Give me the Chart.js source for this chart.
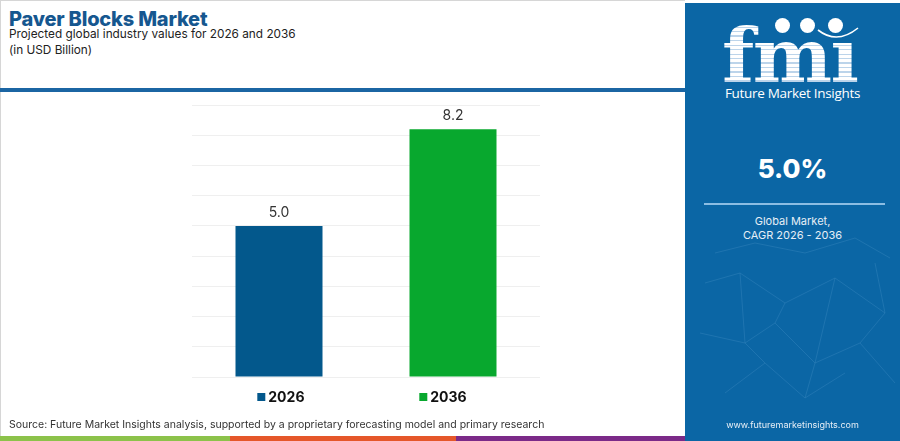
<!DOCTYPE html>
<html>
<head>
<meta charset="utf-8">
<script src="https://cdn.jsdelivr.net/npm/chart.js@4.4.1/dist/chart.umd.min.js"></script>
<style>
  html, body { margin: 0; padding: 0; width: 900px; height: 441px; overflow: hidden; background: #fff; font-family: "Inter", "Noto Sans", sans-serif; }
  #frame { position: absolute; left: 0; top: 0; width: 685px; height: 441px; box-sizing: border-box; border-left: 1px solid #d6d6d6; border-top: 1px solid #d6d6d6; }
  #title { position: absolute; left: 9px; top: 7px; font-size: 20px; font-weight: 800; color: #16578f; letter-spacing: -0.2px; }
  #sub1 { position: absolute; left: 9px; top: 27px; font-size: 11.8px; color: #222; }
  #sub2 { position: absolute; left: 9px; top: 43px; font-size: 11.8px; color: #222; }
  #hline { position: absolute; left: 0; top: 88px; width: 685px; height: 4px; background: #1b65a3; }
  #chartwrap { position: absolute; left: 0; top: 95px; width: 685px; height: 325px; }
  #source { position: absolute; left: 9px; top: 418px; font-size: 10.5px; color: #333; white-space: nowrap; }
  .strip { position: absolute; top: 436px; height: 5px; }
  #panel { position: absolute; left: 685px; top: 3px; width: 215px; height: 438px; background: #0b66a5; overflow: hidden; }
  #logo { position: absolute; left: 37px; top: 16px; font-family: "DejaVu Serif", serif; font-weight: bold; font-size: 75px; line-height: 75px; letter-spacing: -1.5px;
          background: repeating-linear-gradient(to bottom, #ffffff 0px, #ffffff 3px, #bcd4ea 3px, #bcd4ea 4.5px); -webkit-background-clip: text; background-clip: text; color: transparent; }
  .globe { position: absolute; width: 15px; height: 15px; border-radius: 50%; background: #fff; }
  #fmitext { position: absolute; left: 0; width: 215px; top: 81px; text-align: center; color: #fff; font-size: 13.5px; font-family: "Open Sans", sans-serif; letter-spacing: -0.3px; }
  #cagr { position: absolute; left: 0; width: 215px; top: 150px; text-align: center; color: #fff; font-size: 26px; font-weight: 800; }
  #pline { position: absolute; left: 19px; top: 200px; width: 181px; height: 2px; background: #8cbde3; }
  #gm { position: absolute; left: 0; width: 215px; top: 211px; text-align: center; color: #e6eef6; font-size: 11px; line-height: 14px; }
  #url { position: absolute; left: 0; width: 215px; top: 416px; text-align: center; color: #e6eef6; font-size: 9px; }
</style>
</head>
<body>
<div id="frame"></div>
<div id="title">Paver Blocks Market</div>
<div id="sub1">Projected global industry values for 2026 and 2036</div>
<div id="sub2">(in USD Billion)</div>
<div id="hline"></div>
<div id="chartwrap"><canvas id="c"></canvas></div>
<div id="source">Source: Future Market Insights analysis, supported by a proprietary forecasting model and primary research</div>
<div class="strip" style="left:0;width:230px;background:#8cc24a;"></div>
<div class="strip" style="left:230px;width:226px;background:#e5572a;"></div>
<div class="strip" style="left:456px;width:229px;background:#7b2a88;"></div>
<div id="panel">
  <svg width="215" height="438" style="position:absolute;left:0;top:0;opacity:0.22" stroke="#9fd0f5" stroke-width="0.6" fill="none">
    <polyline points="20,280 55,270 100,300 150,275 200,310"/>
    <polyline points="15,330 60,340 90,320 130,360 175,340 210,380"/>
    <polyline points="40,390 80,360 120,395 160,370"/>
    <polyline points="55,270 60,340 80,360"/>
    <polyline points="150,275 130,360 120,395"/>
    <polyline points="100,300 90,320"/>
    <polyline points="175,340 200,310 190,260"/>
    <polyline points="30,250 70,240 120,250 170,235 205,255"/>
  </svg>
  <div id="logo">fmı</div>
  <div class="globe" style="left:90px;top:15px;"></div>
  <div class="globe" style="left:115px;top:15px;"></div>
  <div class="globe" style="left:143px;top:15px;"></div>
  <svg width="215" height="60" style="position:absolute;left:0;top:0" fill="none" stroke="#fff" stroke-width="1.6">
    <path d="M133,27 Q152,42 173,25"/>
  </svg>
  <div id="fmitext">Future Market Insights</div>
  <div id="cagr">5.0%</div>
  <div id="pline"></div>
  <div id="gm">Global Market,<br>CAGR 2026 - 2036</div>
  <div id="url">www.futuremarketinsights.com</div>
</div>
<script>
const categories = ['2026', '2036'];
const values = [5.0, 8.2];
const barColors = ['#03588c', '#08a82e'];
const yMax = 9;
const yStep = 1;

const valueLabels = {
  id: 'valueLabels',
  afterDatasetsDraw(chart) {
    const ctx = chart.ctx;
    const meta = chart.getDatasetMeta(0);
    ctx.save();
    ctx.font = '14px "Inter", "Noto Sans", sans-serif';
    ctx.fillStyle = '#333';
    ctx.textAlign = 'center';
    ctx.textBaseline = 'bottom';
    meta.data.forEach((bar, i) => {
      ctx.fillText(values[i].toFixed(1), bar.x, bar.y - 6);
    });
    ctx.restore();
  }
};

// legend row drawn below the chart area, one item per category
const bottomLegend = {
  id: 'bottomLegend',
  afterDraw(chart) {
    const ctx = chart.ctx;
    const area = chart.chartArea;
    const spacing = 162;
    ctx.save();
    ctx.font = 'bold 14px "Inter", "Noto Sans", sans-serif';
    const widths = categories.map(c => 11 + ctx.measureText(c).width);
    const total = spacing + widths[widths.length - 1];
    let x = (area.left + area.right) / 2 - total / 2 - 4;
    const y = area.bottom + 20;
    categories.forEach((c, i) => {
      ctx.fillStyle = barColors[i];
      ctx.fillRect(x, y - 4, 8, 8);
      ctx.fillStyle = '#111';
      ctx.textAlign = 'left';
      ctx.textBaseline = 'middle';
      ctx.fillText(c, x + 11, y + 1);
      x += spacing;
    });
    ctx.restore();
  }
};

new Chart(document.getElementById('c'), {
  type: 'bar',
  data: {
    labels: categories,
    datasets: [{
      data: values,
      backgroundColor: barColors,
      borderWidth: 0,
      categoryPercentage: 1.0,
      barPercentage: 0.5
    }]
  },
  options: {
    responsive: true,
    maintainAspectRatio: false,
    animation: false,
    layout: { padding: { left: 192, right: 145, top: 10, bottom: 43 } },
    scales: {
      x: { display: false },
      y: {
        min: 0, max: yMax,
        ticks: { display: false, stepSize: yStep },
        grid: { color: '#efefef', lineWidth: 1, drawTicks: false },
        border: { display: false }
      }
    },
    plugins: {
      tooltip: { enabled: false },
      legend: { display: false }
    }
  },
  plugins: [valueLabels, bottomLegend]
});
</script>
</body>
</html>
